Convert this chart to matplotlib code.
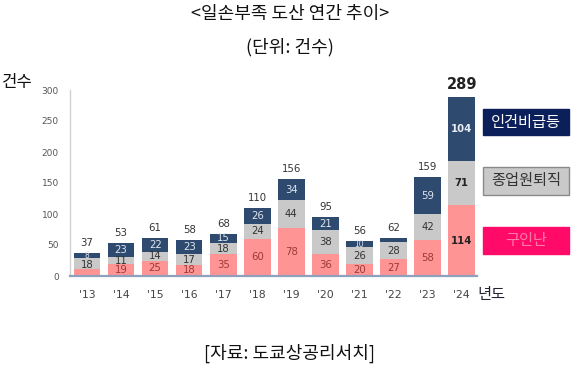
import matplotlib
matplotlib.use("Agg")
import matplotlib.pyplot as plt
from matplotlib.patches import Rectangle

plt.rcParams['font.family'] = ['DejaVu Sans', 'Noto Sans CJK KR']
KR = ['Noto Sans CJK KR', 'DejaVu Sans']

years = ["'13", "'14", "'15", "'16", "'17", "'18", "'19", "'20", "'21", "'22", "'23", "'24"]
shortage = [11, 19, 25, 18, 35, 60, 78, 36, 20, 27, 58, 114]      # 구인난
retire = [18, 11, 14, 17, 18, 24, 44, 38, 26, 28, 42, 71]         # 종업원퇴직
labor_cost = [8, 23, 22, 23, 15, 26, 34, 21, 10, 7, 59, 104]      # 인건비급등
totals = [a + b + c for a, b, c in zip(shortage, retire, labor_cost)]
yticks = [0, 50, 100, 150, 200, 250, 300]

c_pink = '#ff9494'
c_gray = '#c9c9c9'
c_navy = '#2f4a6f'

fig = plt.figure(figsize=(5.82, 3.79), dpi=100)
ax = fig.add_axes([70/582, 1-276/379, 407/582, 186/379])

x = list(range(len(years)))
w = 0.78
ax.bar(x, shortage, width=w, color=c_pink, zorder=2)
ax.bar(x, retire, width=w, bottom=shortage, color=c_gray, zorder=2)
b2 = [s + r for s, r in zip(shortage, retire)]
ax.bar(x, labor_cost, width=w, bottom=b2, color=c_navy, zorder=2)

for i in x:
    last = (i == len(years) - 1)
    fw = 'bold' if last else 'normal'
    fs = 7.3
    if i != 0:
        ax.text(i, shortage[i]/2, str(shortage[i]), ha='center', va='center',
                fontsize=fs, color='#222222' if last else '#9a3b35', fontweight=fw, zorder=3)
    ax.text(i, shortage[i] + retire[i]/2 - (1.5 if i == 0 else 0), str(retire[i]),
            ha='center', va='center',
            fontsize=fs, color='#222222' if last else '#333333', fontweight=fw, zorder=3)
    if i != 9:
        small = labor_cost[i] < 12
        ax.text(i, b2[i] + labor_cost[i]/2, str(labor_cost[i]), ha='center', va='center',
                fontsize=5.5 if small else fs, color='#e8ecf4' if last else '#dfe6f0',
                fontweight=fw, zorder=3)
    if last:
        ax.text(i, totals[i] + 8, str(totals[i]), ha='center', va='bottom',
                fontsize=10.5, fontweight='bold', color='#222222')
    else:
        ax.text(i, totals[i] + 8, str(totals[i]), ha='center', va='bottom',
                fontsize=7.3, color='#333333')

ax.set_xlim(-0.5, 11.45)
ax.set_ylim(0, 300)
ax.set_yticks(yticks)
ax.set_yticklabels([str(v) for v in yticks], fontsize=6.5, color='#555555')
ax.set_xticks(x)
ax.set_xticklabels(years, fontsize=7.8, color='#444444')
ax.tick_params(axis='both', length=0)
ax.tick_params(axis='x', pad=10)
ax.tick_params(axis='y', pad=8)
for s in ['top', 'right']:
    ax.spines[s].set_visible(False)
ax.spines['left'].set_color('#d0d0d0')
ax.spines['left'].set_linewidth(1.0)
ax.spines['bottom'].set_color('#8fa0bb')
ax.spines['bottom'].set_linewidth(1.6)

# legend boxes
def box(y0, y1, fc, ec, label, tc):
    fig.patches.append(Rectangle((483/582, 1-y1/379), 86/582, (y1-y0)/379,
                                 transform=fig.transFigure, facecolor=fc,
                                 edgecolor=ec, linewidth=1.0))
    fig.text(526/582, 1-((y0+y1)/2)/379, label, ha='center', va='center',
             fontsize=11, color=tc, family=KR)

box(109, 135, '#0b1f5a', '#0b1f5a', '인건비급등', 'white')
box(167, 195, '#c9c9c9', '#8a8a8a', '종업원퇴직', '#333333')
box(227, 254, '#ff0a68', '#ff0a68', '구인난', '#ff7aa8')

fig.text(290/582, 1-14/379, '<일손부족 도산 연간 추이>', ha='center', va='center',
         fontsize=13, family=KR, color='#111111')
fig.text(290/582, 1-47/379, '(단위: 건수)', ha='center', va='center',
         fontsize=13, family=KR, color='#111111')
fig.text(17/582, 1-82/379, '건수', ha='center', va='center',
         fontsize=12, family=KR, color='#111111')
fig.text(491/582, 1-295/379, '년도', ha='center', va='center',
         fontsize=11, family=KR, color='#222233')
fig.text(289/582, 1-353/379, '[자료: 도쿄상공리서치]', ha='center', va='center',
         fontsize=13, family=KR, color='#111111')

fig.savefig('out.png', dpi=100)
